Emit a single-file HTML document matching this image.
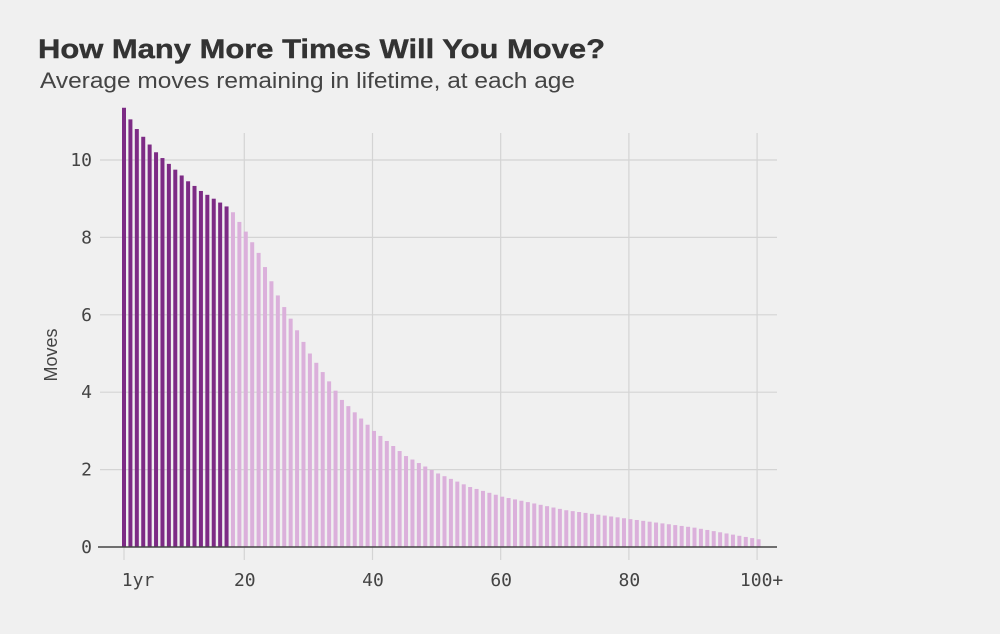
<!DOCTYPE html>
<html><head><meta charset="utf-8">
<style>
html,body{margin:0;padding:0;background:#f0f0f0;}
svg{display:block;}
</style></head>
<body>
<svg id="c" width="1000" height="634" viewBox="0 0 1000 634" xmlns="http://www.w3.org/2000/svg">
<rect width="1000" height="634" fill="#f0f0f0"/>
<text x="38" y="58" font-family="Liberation Sans, sans-serif" font-weight="bold" font-size="27" fill="#333" stroke="#333" stroke-width="0.4" textLength="567" lengthAdjust="spacingAndGlyphs">How Many More Times Will You Move?</text>
<text x="40" y="88" font-family="Liberation Sans, sans-serif" font-size="22" fill="#444" textLength="535" lengthAdjust="spacingAndGlyphs">Average moves remaining in lifetime, at each age</text>
<text transform="translate(57,355) rotate(-90)" text-anchor="middle" font-family="Liberation Sans, sans-serif" font-size="18" fill="#444">Moves</text>
<g id="grid"></g>
<g id="bars"></g>
<line x1="98" y1="547" x2="777" y2="547" stroke="#444" stroke-width="1.5"/>
<g font-family="DejaVu Sans Mono, Liberation Mono, monospace" font-size="18" fill="#444" id="labels"></g>
</svg>
<script>
var NS="http://www.w3.org/2000/svg";
function el(p,t,a,txt){var e=document.createElementNS(NS,t);for(var k in a)e.setAttribute(k,a[k]);if(txt!==undefined)e.textContent=txt;document.getElementById(p).appendChild(e);}
function Y(v){return 547-v*38.7;}
function X(age){return 124+(age-1)*6.41;}
for(var v=2;v<=10;v+=2){el("grid","line",{x1:100,x2:777,y1:Y(v),y2:Y(v),stroke:"#d4d4d4","stroke-width":1.2});}
for(var a=20;a<=100;a+=20){var x=X(a)-1.5;el("grid","line",{x1:x,x2:x,y1:133,y2:560,stroke:"#d4d4d4","stroke-width":1.2});}
el("grid","line",{x1:X(1),x2:X(1),y1:547,y2:560,stroke:"#d4d4d4","stroke-width":1.2});
for(var v=0;v<=10;v+=2){el("labels","text",{x:92,y:Y(v)+6,"text-anchor":"end"},String(v));}
el("labels","text",{x:X(1)+14,y:586,"text-anchor":"middle"},"1yr");
var xl=[20,40,60,80];for(var i=0;i<4;i++)el("labels","text",{x:X(xl[i])-1,y:586,"text-anchor":"middle"},String(xl[i]));
el("labels","text",{x:X(100)+3,y:586,"text-anchor":"middle"},"100+");
var kp=[[1,11.35],[2,11.05],[3,10.8],[4,10.6],[5,10.4],[6,10.2],[7,10.05],[8,9.9],[9,9.75],[10,9.6],[11,9.45],[12,9.33],[13,9.2],[14,9.1],[15,9.0],[16,8.9],[17,8.8],[18,8.65],[19,8.4],[20,8.15],[22,7.6],[25,6.5],[28,5.6],[30,5.0],[35,3.8],[40,3.0],[45,2.35],[50,1.9],[55,1.55],[60,1.3],[70,0.95],[80,0.72],[90,0.5],[100,0.2]];
function val(a){for(var i=0;i<kp.length-1;i++){if(a>=kp[i][0]&&a<=kp[i+1][0]){var t=(a-kp[i][0])/(kp[i+1][0]-kp[i][0]);return kp[i][1]+t*(kp[i+1][1]-kp[i][1]);}}return 0.2;}
for(var a=1;a<=100;a++){var v=val(a);var dark=a<=17;el("bars","rect",{x:X(a)-2,y:Y(v),width:4,height:547-Y(v),fill:dark?"#7d2b85":"#dbb0db"});}
</script>
</body></html>
